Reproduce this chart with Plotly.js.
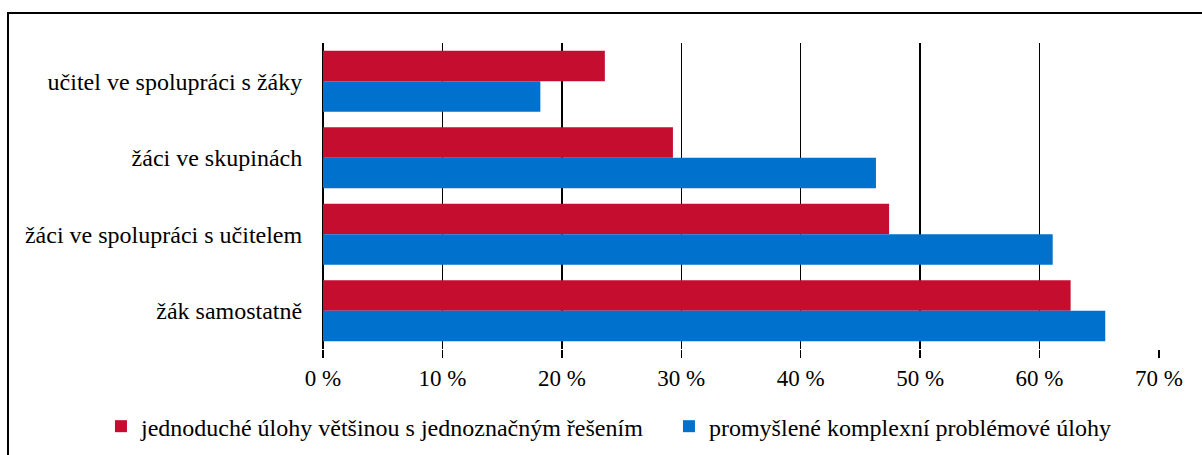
<!DOCTYPE html>
<html><head><meta charset="utf-8">
<script src="https://cdn.plot.ly/plotly-3.0.1.min.js"></script>
<style>html,body{margin:0;padding:0;background:#fff}#chart{width:1202px;height:455px}</style>
</head><body><div id="chart"></div>
<script>
const categories = ["učitel ve spolupráci s žáky", "žáci ve skupinách", "žáci ve spolupráci s učitelem", "žák samostatně"];
const seriesNames = ["jednoduché úlohy většinou s jednoznačným řešením", "promyšlené komplexní problémové úlohy"];
const simpleTasks = [23.6, 29.3, 47.4, 62.6];
const complexTasks = [18.2, 46.3, 61.1, 65.5];
const tickVals = [0, 10, 20, 30, 40, 50, 60, 70];
const tickText = ["0 %", "10 %", "20 %", "30 %", "40 %", "50 %", "60 %", "70 %"];

const fontY = {family: "Liberation Serif", size: 24, color: "#000"};
const fontX = {family: "Liberation Serif", size: 23, color: "#000"};
const fontL = {family: "Liberation Serif", size: 24, color: "#000"};
const data = [
  {type: "bar", orientation: "h", name: seriesNames[0], y: categories, x: simpleTasks,
   marker: {color: "#C50D30"}, hoverinfo: "x+y"},
  {type: "bar", orientation: "h", name: seriesNames[1], y: categories, x: complexTasks,
   marker: {color: "#0072CE"}, hoverinfo: "x+y"}
];
const layout = {
  width: 1202, height: 455,
  margin: {l: 323, r: 43, t: 43, b: 106, autoexpand: false},
  paper_bgcolor: "#fff", plot_bgcolor: "#fff",
  font: fontY,
  barmode: "group", bargap: 0.2, bargroupgap: 0,
  xaxis: {range: [0, 70], tickvals: tickVals, ticktext: tickText, showgrid: true,
    gridcolor: "#000", gridwidth: 1.5, zeroline: true, zerolinecolor: "#000", zerolinewidth: 2,
    ticks: "outside", ticklen: 8, tickcolor: "#000", tickwidth: 1.5, showline: false,
    tickfont: fontX, fixedrange: true, automargin: false},
  yaxis: {autorange: "reversed", type: "category", ticks: "outside", ticklen: 15,
    tickcolor: "rgba(0,0,0,0)", showgrid: false, zeroline: false,
    showline: false, tickfont: fontY, fixedrange: true, automargin: false},
  showlegend: true,
  legend: {orientation: "h", x: -0.2656, xanchor: "left", y: -0.18, yanchor: "top",
    font: fontL, traceorder: "normal", itemwidth: 30, entrywidth: 523, entrywidthmode: "pixels",
    bgcolor: "rgba(0,0,0,0)"},
  shapes: [{type: "rect", xref: "paper", yref: "paper", x0: -0.3768, x1: 1.1, y0: -0.5, y1: 1.098,
    line: {color: "#000", width: 2}, fillcolor: "rgba(0,0,0,0)", layer: "above"}]
};
Plotly.newPlot("chart", data, layout, {displayModeBar: false, staticPlot: true});
</script></body></html>
